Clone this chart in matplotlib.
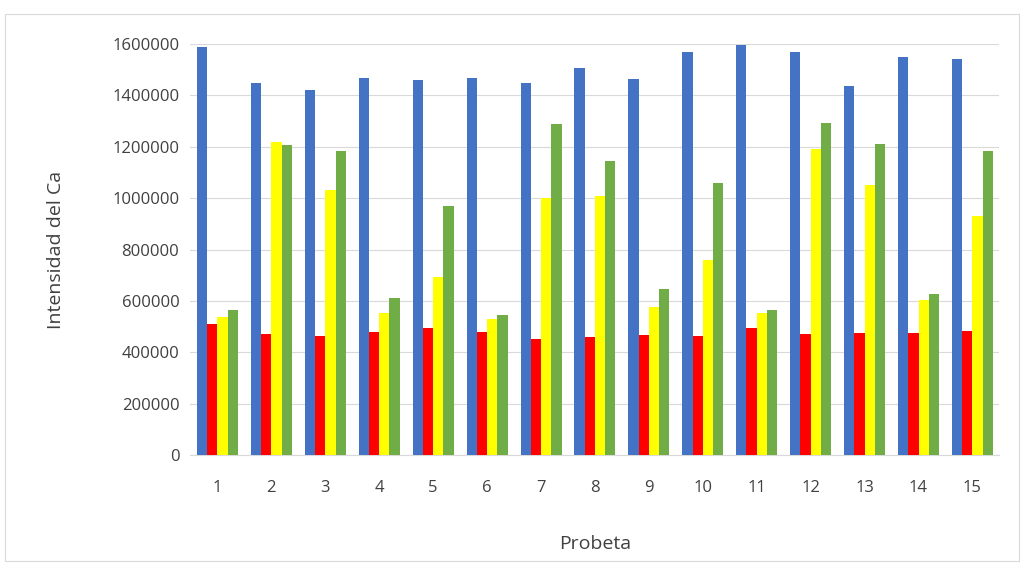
import numpy as np
import matplotlib
matplotlib.use("Agg")
import matplotlib.pyplot as plt
from matplotlib.patches import Rectangle
from matplotlib.ticker import FuncFormatter

plt.rcParams['font.family'] = ['Open Sans', 'DejaVu Sans']

probetas = [str(i) for i in range(1, 16)]
azul = [1590000, 1447000, 1420000, 1468000, 1458000, 1467000, 1448000, 1507000,
        1465000, 1567000, 1595000, 1568000, 1435000, 1550000, 1543000]
rojo = [510000, 470000, 463000, 478000, 493000, 478000, 452000, 460000,
        468000, 465000, 495000, 470000, 475000, 477000, 485000]
amarillo = [537000, 1220000, 1030000, 553000, 693000, 530000, 1000000, 1007000,
            575000, 758000, 553000, 1192000, 1050000, 605000, 930000]
verde = [563000, 1207000, 1183000, 610000, 968000, 545000, 1288000, 1143000,
         648000, 1060000, 563000, 1292000, 1210000, 628000, 1185000]

series = [(azul, "#4472C4"), (rojo, "#FF0000"), (amarillo, "#FFFF00"), (verde, "#70AD47")]

fig = plt.figure(figsize=(10.24, 5.64), dpi=100)
ax = fig.add_axes([0.186, 0.193, 0.79, 0.729])
x = np.arange(len(probetas))
w = 0.19
for k, (vals, col) in enumerate(series):
    ax.bar(x + (k - 1.5) * w, vals, width=w, color=col, zorder=3)

ax.set_xlim(-0.5, len(probetas) - 0.5)
ax.set_ylim(0, 1600000)
ax.set_yticks(np.arange(0, 1600001, 200000))
ax.yaxis.set_major_formatter(FuncFormatter(lambda v, p: f"{int(v)}"))
ax.set_xticks(x)
ax.set_xticklabels(probetas)
ax.grid(axis='y', color='#D9D9D9', lw=0.8, zorder=0)
for s in ['top', 'right', 'left']:
    ax.spines[s].set_visible(False)
ax.spines['bottom'].set_color('#D9D9D9')
ax.tick_params(length=0, labelsize=12, colors='#404040', pad=8)
ax.tick_params(axis='x', pad=18)
ax.set_xlabel("Probeta", fontsize=14, color='#404040', labelpad=28)
ax.set_ylabel("Intensidad del Ca", fontsize=14, color='#404040', labelpad=34)

fig.patches.append(Rectangle((0.005, 0.005), 0.99, 0.97, transform=fig.transFigure,
                             fill=False, edgecolor='#D9D9D9', lw=0.8))
fig.savefig("out.png", dpi=100)
